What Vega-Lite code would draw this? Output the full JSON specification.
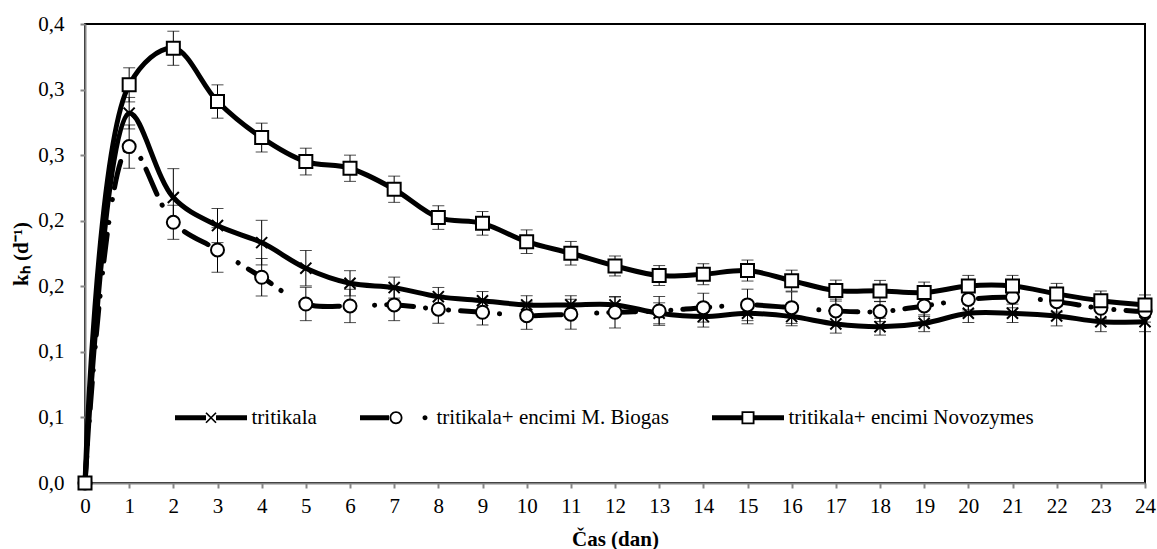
{
  "$schema": "https://vega.github.io/schema/vega-lite/v6.json",
  "width": 1060,
  "height": 459,
  "autosize": {"type": "none"},
  "padding": {"left": 85, "top": 24, "right": 12, "bottom": 66},
  "background": "white",
  "config": {
    "view": {"stroke": "black", "strokeWidth": 2},
    "font": "Liberation Serif",
    "axis": {
      "grid": false,
      "domainColor": "#868686",
      "domainWidth": 2,
      "tickColor": "#868686",
      "tickWidth": 2,
      "tickSize": 5,
      "labelFont": "Liberation Serif",
      "labelFontSize": 21,
      "labelColor": "black",
      "titleFont": "Liberation Serif",
      "titleFontSize": 21,
      "titleFontWeight": "bold",
      "titleColor": "black"
    }
  },
  "data": {
    "values": [
      {"day": 0, "series": "tritikala", "k": 0, "err": 0},
      {"day": 1, "series": "tritikala", "k": 0.282, "err": 0.012},
      {"day": 2, "series": "tritikala", "k": 0.2177, "err": 0.022},
      {"day": 3, "series": "tritikala", "k": 0.1963, "err": 0.013},
      {"day": 4, "series": "tritikala", "k": 0.1833, "err": 0.017},
      {"day": 5, "series": "tritikala", "k": 0.1638, "err": 0.0135},
      {"day": 6, "series": "tritikala", "k": 0.1523, "err": 0.0096},
      {"day": 7, "series": "tritikala", "k": 0.149, "err": 0.008},
      {"day": 8, "series": "tritikala", "k": 0.1421, "err": 0.007},
      {"day": 9, "series": "tritikala", "k": 0.139, "err": 0.007},
      {"day": 10, "series": "tritikala", "k": 0.1358, "err": 0.007},
      {"day": 11, "series": "tritikala", "k": 0.1358, "err": 0.007},
      {"day": 12, "series": "tritikala", "k": 0.1358, "err": 0.006},
      {"day": 13, "series": "tritikala", "k": 0.1294, "err": 0.008},
      {"day": 14, "series": "tritikala", "k": 0.1269, "err": 0.008},
      {"day": 15, "series": "tritikala", "k": 0.1294, "err": 0.008},
      {"day": 16, "series": "tritikala", "k": 0.1269, "err": 0.007},
      {"day": 17, "series": "tritikala", "k": 0.1213, "err": 0.007},
      {"day": 18, "series": "tritikala", "k": 0.1192, "err": 0.0064},
      {"day": 19, "series": "tritikala", "k": 0.1218, "err": 0.0064},
      {"day": 20, "series": "tritikala", "k": 0.1294, "err": 0.007},
      {"day": 21, "series": "tritikala", "k": 0.1294, "err": 0.007},
      {"day": 22, "series": "tritikala", "k": 0.1274, "err": 0.0076},
      {"day": 23, "series": "tritikala", "k": 0.123, "err": 0.0076},
      {"day": 24, "series": "tritikala", "k": 0.123, "err": 0.0076},
      {"day": 0, "series": "tritikala+ encimi M. Biogas", "k": 0, "err": 0},
      {"day": 1, "series": "tritikala+ encimi M. Biogas", "k": 0.2565, "err": 0.0165},
      {"day": 2, "series": "tritikala+ encimi M. Biogas", "k": 0.1988, "err": 0.013},
      {"day": 3, "series": "tritikala+ encimi M. Biogas", "k": 0.1777, "err": 0.017},
      {"day": 4, "series": "tritikala+ encimi M. Biogas", "k": 0.1569, "err": 0.0143},
      {"day": 5, "series": "tritikala+ encimi M. Biogas", "k": 0.1365, "err": 0.0127},
      {"day": 6, "series": "tritikala+ encimi M. Biogas", "k": 0.135, "err": 0.0127},
      {"day": 7, "series": "tritikala+ encimi M. Biogas", "k": 0.1358, "err": 0.012},
      {"day": 8, "series": "tritikala+ encimi M. Biogas", "k": 0.1325, "err": 0.0107},
      {"day": 9, "series": "tritikala+ encimi M. Biogas", "k": 0.1302, "err": 0.0097},
      {"day": 10, "series": "tritikala+ encimi M. Biogas", "k": 0.1276, "err": 0.0104},
      {"day": 11, "series": "tritikala+ encimi M. Biogas", "k": 0.1287, "err": 0.0114},
      {"day": 12, "series": "tritikala+ encimi M. Biogas", "k": 0.1302, "err": 0.012},
      {"day": 13, "series": "tritikala+ encimi M. Biogas", "k": 0.1312, "err": 0.011},
      {"day": 14, "series": "tritikala+ encimi M. Biogas", "k": 0.1337, "err": 0.011},
      {"day": 15, "series": "tritikala+ encimi M. Biogas", "k": 0.1358, "err": 0.012},
      {"day": 16, "series": "tritikala+ encimi M. Biogas", "k": 0.1337, "err": 0.012},
      {"day": 17, "series": "tritikala+ encimi M. Biogas", "k": 0.1312, "err": 0.009},
      {"day": 18, "series": "tritikala+ encimi M. Biogas", "k": 0.1307, "err": 0.0076},
      {"day": 19, "series": "tritikala+ encimi M. Biogas", "k": 0.135, "err": 0.008},
      {"day": 20, "series": "tritikala+ encimi M. Biogas", "k": 0.14, "err": 0.008},
      {"day": 21, "series": "tritikala+ encimi M. Biogas", "k": 0.1416, "err": 0.008},
      {"day": 22, "series": "tritikala+ encimi M. Biogas", "k": 0.1383, "err": 0.008},
      {"day": 23, "series": "tritikala+ encimi M. Biogas", "k": 0.1332, "err": 0.008},
      {"day": 24, "series": "tritikala+ encimi M. Biogas", "k": 0.1307, "err": 0.008},
      {"day": 0, "series": "tritikala+ encimi Novozymes", "k": 0, "err": 0},
      {"day": 1, "series": "tritikala+ encimi Novozymes", "k": 0.3036, "err": 0.013},
      {"day": 2, "series": "tritikala+ encimi Novozymes", "k": 0.3315, "err": 0.013},
      {"day": 3, "series": "tritikala+ encimi Novozymes", "k": 0.2909, "err": 0.0127},
      {"day": 4, "series": "tritikala+ encimi Novozymes", "k": 0.2634, "err": 0.011},
      {"day": 5, "series": "tritikala+ encimi Novozymes", "k": 0.2451, "err": 0.0102},
      {"day": 6, "series": "tritikala+ encimi Novozymes", "k": 0.24, "err": 0.01},
      {"day": 7, "series": "tritikala+ encimi Novozymes", "k": 0.224, "err": 0.01},
      {"day": 8, "series": "tritikala+ encimi Novozymes", "k": 0.2024, "err": 0.009},
      {"day": 9, "series": "tritikala+ encimi Novozymes", "k": 0.198, "err": 0.009},
      {"day": 10, "series": "tritikala+ encimi Novozymes", "k": 0.184, "err": 0.009},
      {"day": 11, "series": "tritikala+ encimi Novozymes", "k": 0.1752, "err": 0.009},
      {"day": 12, "series": "tritikala+ encimi Novozymes", "k": 0.1655, "err": 0.0076},
      {"day": 13, "series": "tritikala+ encimi Novozymes", "k": 0.1582, "err": 0.0076},
      {"day": 14, "series": "tritikala+ encimi Novozymes", "k": 0.1592, "err": 0.008},
      {"day": 15, "series": "tritikala+ encimi Novozymes", "k": 0.162, "err": 0.008},
      {"day": 16, "series": "tritikala+ encimi Novozymes", "k": 0.1543, "err": 0.008},
      {"day": 17, "series": "tritikala+ encimi Novozymes", "k": 0.1467, "err": 0.008},
      {"day": 18, "series": "tritikala+ encimi Novozymes", "k": 0.1465, "err": 0.008},
      {"day": 19, "series": "tritikala+ encimi Novozymes", "k": 0.1452, "err": 0.008},
      {"day": 20, "series": "tritikala+ encimi Novozymes", "k": 0.1503, "err": 0.008},
      {"day": 21, "series": "tritikala+ encimi Novozymes", "k": 0.1503, "err": 0.008},
      {"day": 22, "series": "tritikala+ encimi Novozymes", "k": 0.1442, "err": 0.008},
      {"day": 23, "series": "tritikala+ encimi Novozymes", "k": 0.139, "err": 0.0074},
      {"day": 24, "series": "tritikala+ encimi Novozymes", "k": 0.1358, "err": 0.0076}
    ]
  },
  "encoding": {
    "x": {
      "field": "day",
      "type": "quantitative",
      "scale": {"domain": [0, 24], "nice": false, "zero": false},
      "axis": {
        "title": "Čas (dan)",
        "values": [0,1,2,3,4,5,6,7,8,9,10,11,12,13,14,15,16,17,18,19,20,21,22,23,24],
        "format": "d",
        "labelPadding": 7,
        "titlePadding": 12,
        "labelFlush": false
      }
    },
    "y": {
      "field": "k",
      "type": "quantitative",
      "scale": {"domain": [0, 0.35], "nice": false},
      "axis": {
        "title": "kₕ (d⁻¹)",
        "values": [0, 0.05, 0.1, 0.15, 0.2, 0.25, 0.3, 0.35],
        "labelExpr": "replace(format(round(datum.value*10+0.000001)/10, '.1f'), '.', ',')",
        "labelPadding": 16,
        "titlePadding": 6
      }
    }
  },
  "layer": [
    {
      "mark": {
        "type": "errorbar",
        "ticks": {"size": 12, "thickness": 1, "color": "black"},
        "rule": {"strokeWidth": 1, "color": "black"}
      },
      "encoding": {
        "yError": {"field": "err"},
        "detail": {"field": "series", "type": "nominal"}
      }
    },
    {
      "transform": [{"filter": "datum.series !== 'tritikala+ encimi M. Biogas'"}],
      "mark": {"type": "line", "interpolate": "catmull-rom", "strokeWidth": 5, "color": "black", "strokeCap": "round"},
      "encoding": {
        "detail": {"field": "series", "type": "nominal"}
      }
    },
    {
      "transform": [{"filter": "datum.series === 'tritikala+ encimi M. Biogas'"}],
      "mark": {"type": "line", "interpolate": "catmull-rom", "strokeWidth": 5, "color": "black", "strokeCap": "round", "strokeDash": [27, 12, 0.1, 23, 0.1, 12]},
      "encoding": {
        "detail": {"field": "series", "type": "nominal"}
      }
    },
    {
      "transform": [{"filter": "datum.series === 'tritikala'"}],
      "mark": {"type": "point", "shape": "M-0.85,-0.85L0.85,0.85M-0.85,0.85L0.85,-0.85", "filled": false, "fill": "white", "stroke": "black", "strokeWidth": 2, "opacity": 1, "size": 169}
    },
    {
      "transform": [{"filter": "datum.series === 'tritikala+ encimi M. Biogas'"}],
      "mark": {"type": "point", "shape": "circle", "filled": false, "fill": "white", "stroke": "black", "strokeWidth": 2, "opacity": 1, "size": 169}
    },
    {
      "transform": [{"filter": "datum.series === 'tritikala+ encimi Novozymes'"}],
      "mark": {"type": "point", "shape": "square", "filled": false, "fill": "white", "stroke": "black", "strokeWidth": 2, "opacity": 1, "size": 169}
    },
    {
      "mark": {"type": "point", "filled": true, "color": "black", "opacity": 0, "size": 4},
      "encoding": {
        "shape": {
          "field": "series",
          "type": "nominal",
          "scale": {
            "domain": ["tritikala", "tritikala+ encimi M. Biogas", "tritikala+ encimi Novozymes"],
            "range": [
              "M0,-2.5H31V2.5H0Z M41,-2.5H72V2.5H41Z M31.6,-5.6L41.6,4.4L40.4,5.6L30.4,-4.4Z M30.4,4.4L40.4,-5.6L41.6,-4.4L31.6,5.6Z",
              "M0,-2.5H29V2.5H0Z M42.5,0A6.5,6.5 0 1,1 29.5,0A6.5,6.5 0 1,1 42.5,0Z M40.7,0A4.7,4.7 0 1,0 31.3,0A4.7,4.7 0 1,0 40.7,0Z M67.5,0A2.5,2.5 0 1,1 62.5,0A2.5,2.5 0 1,1 67.5,0Z",
              "M0,-2.5H29.5V2.5H0Z M42.5,-2.5H72V2.5H42.5Z M29.5,-6.5H42.5V6.5H29.5Z M31.3,-4.7V4.7H40.7V-4.7Z"
            ]
          },
          "legend": {
            "orient": "none",
            "legendX": 90,
            "legendY": 383,
            "direction": "horizontal",
            "title": null,
            "padding": 0,
            "columnPadding": 43,
            "labelOffset": 66,
            "labelLimit": 500,
            "symbolSize": 4,
            "symbolOffset": -10.5,
            "symbolFillColor": "black",
            "symbolStrokeWidth": 0,
            "symbolOpacity": 1,
            "labelFont": "Liberation Serif",
            "labelFontSize": 21,
            "labelColor": "black"
          }
        }
      }
    }
  ]
}
